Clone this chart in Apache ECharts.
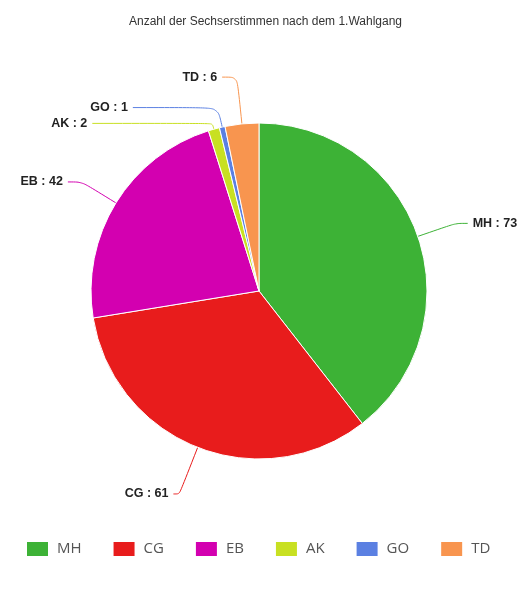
<!DOCTYPE html>
<html><head><meta charset="utf-8">
<script src="https://cdn.jsdelivr.net/npm/echarts@6/dist/echarts.min.js"></script>
<style>html,body{margin:0;padding:0;background:#fff}#c{width:531px;height:590px}</style>
</head><body><div id="c"></div>
<script>
const categories = ['MH','CG','EB','AK','GO','TD'];
const values = [73,61,42,2,1,6];
const colors = ['#3db236','#e81c1c','#d300b0','#c8e022','#5b80e2','#f8954f'];
const titleText = 'Anzahl der Sechserstimmen nach dem 1.Wahlgang';

// label line styling per slice (layout config, not data)
const lineCfg = {
  MH: { length: 40, length2: 12 },
  CG: { length: 50, length2: 6 },
  EB: { length: 40, length2: 14 },
  AK: { length: 6, length2: 120 },
  GO: { length: 20, length2: 85 },
  TD: { length: 47, length2: 15 }
};

const chart = echarts.init(document.getElementById('c'));
chart.setOption({
  animation: false,
  title: { text: titleText, left: 'center', top: 11,
    textStyle: { fontFamily: 'Liberation Sans, Arial', fontSize: 12, fontWeight: 'normal', color: '#333' } },
  color: colors,
  legend: { top: 540, left: 25, padding: 0, itemWidth: 23, itemHeight: 16, itemGap: 30,
    icon: 'rect',
    textStyle: { fontFamily: 'Open Sans', fontSize: 15, color: '#555', padding: [0, 0, 0, 3] },
    data: categories },
  series: [{
    type: 'pie', center: [259, 291], radius: 168, clockwise: true, startAngle: 90,
    avoidLabelOverlap: false,
    itemStyle: { borderColor: '#fff', borderWidth: 1 },
    label: { formatter: '{b} : {c}', fontFamily: 'Liberation Sans, Arial', fontWeight: 'bold', fontSize: 12.5, color: '#222' },
    labelLine: { length: 40, length2: 12, smooth: true, lineStyle: { width: 1 } },
    data: categories.map((n, i) => ({ name: n, value: values[i], labelLine: lineCfg[n] }))
  }]
});
</script></body></html>
